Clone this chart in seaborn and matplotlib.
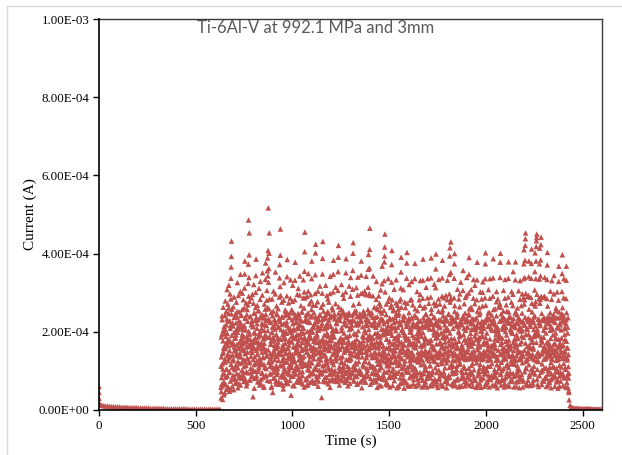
import numpy as np
import pandas as pd
import matplotlib
matplotlib.use("Agg")
import matplotlib.pyplot as plt
from matplotlib.lines import Line2D
from matplotlib.ticker import FuncFormatter
import seaborn as sns

# ---------------- data (current in units of 1e-4 A) ----------------
TITLE = "Ti-6Al-V at 992.1 MPa and 3mm"
X_LABEL = "Time (s)"
Y_LABEL = "Current (A)"
X_TICKS = [0, 500, 1000, 1500, 2000, 2500]
Y_TICKS = [0.0, 2e-4, 4e-4, 6e-4, 8e-4, 1e-3]

# start-up spike
start_t = [0, 0, 0, 0, 2]
start_v = [0.6, 0.45, 0.3, 0.2, 0.15]

# idle baseline, sampled every 10 s from 5 s
BASE_START, BASE_STEP = 5, 10
base_v = [0.13, 0.12, 0.11, 0.10, 0.10, 0.09, 0.09, 0.09, 0.08, 0.08,
          0.08, 0.07, 0.07, 0.07, 0.07, 0.06, 0.06, 0.06, 0.06, 0.06,
          0.05, 0.05, 0.05, 0.05, 0.05, 0.05, 0.04, 0.04, 0.04, 0.04,
          0.04, 0.04, 0.04, 0.04, 0.03, 0.03, 0.03, 0.03, 0.03, 0.03,
          0.03, 0.03, 0.03, 0.03, 0.03, 0.03, 0.02, 0.02, 0.02, 0.02,
          0.02, 0.02, 0.02, 0.02, 0.02, 0.02, 0.02, 0.02, 0.02, 0.02,
          0.02, 0.02, 0.02]

# loaded phase, sampled every 1 s from 630 s (one row = 20 s)
ACTIVE_START, ACTIVE_STEP = 630, 1
active_v = [
    0.58, 0.31, 0.47, 1.36, 0.83, 1.94, 2.41, 1.18, 0.62, 0.27, 1.05, 1.77, 2.63, 1.49, 0.71, 0.39, 1.22, 2.14, 1.63, 0.92,
    0.44, 1.31, 2.06, 2.79, 1.57, 0.66, 1.88, 2.52, 1.04, 0.53, 1.69, 2.33, 3.08, 1.96, 0.87, 1.43, 2.71, 1.26, 0.59, 1.81,
    2.47, 3.19, 1.74, 0.96, 0.48, 1.52, 2.28, 2.97, 1.38, 0.74, 2.16, 2.84, 3.37, 3.66, 3.93, 4.32, 2.58, 1.67, 1.09, 0.61,
    1.41, 2.23, 0.88, 1.73, 2.64, 1.29, 0.52, 1.98, 2.89, 1.61, 1.07, 2.37, 1.84, 0.79, 1.55, 2.46, 2.02, 1.14, 0.68, 1.92,
    2.76, 1.47, 0.93, 1.68, 2.38, 3.26, 2.11, 1.24, 0.57, 1.39, 2.07, 2.93, 1.58, 0.84, 1.72, 2.51, 1.19, 0.66, 1.46, 2.19,
    3.03, 3.47, 2.24, 1.36, 0.81, 1.64, 2.42, 1.85, 1.01, 1.78, 2.57, 2.99, 1.69, 0.91, 1.27, 2.13, 2.82, 1.53, 0.73, 1.11,
    1.87, 2.61, 3.12, 3.48, 3.81, 2.36, 1.44, 0.76, 1.23, 2.05, 2.74, 1.61, 0.98, 1.76, 2.44, 1.32, 0.69, 1.48, 2.27, 1.83,
    2.69, 3.24, 3.73, 4.86, 2.91, 3.39, 3.97, 4.53, 2.78, 1.94, 1.21, 0.77, 1.63, 2.39, 1.71, 0.96, 1.37, 2.18, 2.87, 1.52,
    0.86, 1.47, 2.29, 2.96, 1.67, 1.02, 0.34, 1.29, 2.14, 2.73, 3.21, 1.98, 1.16, 0.81, 1.58, 2.47, 1.74, 0.99, 1.85, 2.62,
    3.01, 3.44, 3.86, 2.37, 1.53, 0.88, 1.26, 2.09, 2.68, 1.42, 0.72, 1.59, 2.31, 1.87, 1.05, 1.73, 2.54, 3.11, 1.96, 1.21,
    0.64, 1.33, 2.01, 2.83, 3.29, 1.91, 1.18, 0.79, 1.66, 2.43, 1.72, 0.95, 1.48, 2.22, 2.94, 3.51, 2.18, 1.35, 0.83, 1.57,
    2.36, 1.62, 0.58, 1.17, 2.04, 2.71, 1.84, 1.09, 1.92, 2.58, 3.34, 3.76, 2.45, 1.54, 0.89, 1.38, 2.16, 2.81, 3.06, 2.29,
    3.56, 3.89, 2.62, 3.43, 4.08, 5.17, 3.27, 2.33, 3.62, 4.01, 4.53, 2.84, 1.88, 1.12, 0.74, 1.45, 2.26, 1.69, 0.93, 1.77,
    2.49, 1.36, 0.61, 1.24, 1.99, 2.84, 2.12, 1.43, 0.45, 1.08, 1.86, 2.53, 3.04, 1.79, 0.97, 1.51, 2.32, 1.66, 0.82, 1.29,
    2.07, 2.97, 3.53, 2.21, 1.39, 0.67, 1.14, 1.93, 2.66, 1.57, 0.91, 1.68, 2.44, 1.83, 1.06, 1.74, 2.59, 2.14, 1.27, 0.73,
    1.49, 2.34, 2.89, 3.38, 3.72, 2.27, 3.16, 3.96, 4.63, 2.93, 1.81, 1.13, 0.69, 1.42, 2.19, 2.76, 1.54, 0.86, 1.61, 2.38,
    1.94, 1.17, 0.63, 1.28, 2.02, 2.81, 3.26, 1.89, 1.07, 0.84, 1.56, 2.42, 1.71, 0.98, 1.82, 2.53, 2.01, 1.23, 0.71, 1.44,
    2.26, 2.92, 3.41, 3.85, 2.48, 1.59, 0.94, 0.68, 1.35, 2.11, 2.74, 1.66, 1.03, 1.79, 2.37, 1.48, 0.76, 1.31, 2.08, 2.86,
    3.33, 1.99, 1.12, 0.38, 1.09, 1.88, 2.57, 1.75, 1.26, 2.03, 2.78, 3.19, 2.21, 1.37, 0.87, 1.62, 2.49, 1.84, 1.01, 0.62,
    1.23, 2.05, 2.82, 3.32, 3.78, 2.43, 1.51, 0.92, 1.46, 2.24, 1.91, 1.14, 0.73, 1.58, 2.36, 2.96, 1.72, 1.04, 1.67, 2.47,
    3.11, 2.09, 1.28, 0.84, 0.72, 1.41, 2.17, 2.94, 3.43, 2.31, 1.43, 0.81, 1.19, 1.97, 2.67, 1.86, 1.12, 1.53, 2.28, 2.51,
    1.73, 0.99, 0.67, 1.34, 2.12, 2.87, 3.33, 1.98, 1.19, 1.81, 2.61, 3.02, 3.55, 4.05, 4.55, 2.87, 1.82, 1.18, 0.77, 1.64,
    2.43, 1.58, 0.79, 0.63, 1.48, 2.27, 2.91, 1.79, 1.04, 1.69, 2.48, 3.04, 3.49, 2.25, 1.41, 0.88, 1.26, 2.01, 2.72, 1.93,
    1.13, 0.71, 1.57, 2.38, 2.95, 1.83, 1.21, 2.06, 2.79, 3.36, 3.81, 2.41, 1.52, 0.96, 0.74, 1.39, 2.13, 2.68, 1.61, 0.93,
    1.76, 2.49, 1.84, 1.06, 0.69, 1.44, 2.23, 2.98, 3.46, 4.02, 4.24, 2.68, 1.73, 1.04, 0.78, 1.54, 2.35, 1.89, 1.17, 2.04,
    2.77, 3.04, 2.14, 1.31, 0.86, 0.74, 1.49, 2.31, 1.76, 1.02, 1.63, 2.42, 3.17, 2.44, 1.52, 0.92, 1.37, 2.09, 2.63, 1.78,
    0.97, 0.32, 1.46, 2.21, 2.99, 3.48, 3.88, 4.31, 2.71, 1.69, 1.01, 0.77, 1.55, 2.34, 1.92, 1.15, 1.63, 2.37, 1.42, 0.84,
    1.61, 2.44, 3.19, 2.16, 1.29, 0.72, 1.33, 2.11, 2.93, 1.97, 1.18, 1.71, 2.52, 2.84, 1.89, 1.08, 1.57, 2.29, 2.76, 1.64,
    0.91, 0.76, 1.52, 2.36, 2.98, 3.42, 2.17, 1.33, 0.94, 0.75, 1.61, 2.39, 1.78, 1.04, 1.86, 2.62, 2.03, 1.22, 1.97, 2.56,
    3.02, 3.47, 3.83, 2.42, 1.47, 0.98, 0.77, 1.59, 2.44, 1.69, 1.01, 1.32, 2.04, 2.72, 3.14, 2.07, 1.26, 0.83, 1.46, 2.21,
    1.57, 0.87, 0.73, 1.51, 2.33, 3.06, 3.54, 3.91, 4.21, 2.64, 1.61, 0.99, 0.79, 1.56, 2.38, 1.81, 1.09, 1.73, 2.41, 1.34,
    1.04, 1.82, 2.58, 3.21, 2.03, 1.24, 0.91, 0.75, 1.62, 2.47, 2.96, 1.81, 1.11, 1.77, 2.46, 2.86, 1.73, 1.02, 1.48, 2.27,
    1.52, 0.94, 0.78, 1.58, 2.42, 3.02, 3.51, 3.87, 2.44, 1.53, 0.97, 0.76, 1.63, 2.44, 1.88, 1.12, 0.84, 1.54, 2.31, 1.74,
    1.01, 1.67, 2.49, 3.17, 2.06, 1.27, 0.89, 0.68, 1.46, 2.26, 2.91, 3.39, 2.13, 1.31, 0.93, 1.42, 2.18, 1.61, 0.97, 1.72,
    2.43, 3.09, 3.57, 4.01, 4.28, 2.69, 1.67, 1.03, 0.74, 1.51, 2.28, 1.76, 1.08, 1.69, 2.48, 1.93, 1.21, 0.86, 1.61, 2.54,
    3.13, 1.94, 1.18, 0.86, 0.66, 1.43, 2.24, 2.94, 3.40, 2.18, 1.36, 0.94, 1.47, 2.21, 2.73, 1.68, 1.03, 1.64, 2.39, 1.56,
    0.98, 0.72, 1.49, 2.31, 2.98, 3.45, 3.81, 2.39, 1.48, 0.91, 0.76, 1.58, 2.41, 2.99, 1.91, 1.16, 1.77, 2.53, 1.86, 1.11,
    0.85, 1.62, 2.47, 3.04, 2.04, 1.24, 0.86, 0.71, 1.49, 2.31, 2.95, 3.42, 2.16, 1.34, 0.95, 1.41, 2.19, 1.67, 1.02, 1.86,
    2.57, 3.14, 3.60, 3.98, 2.48, 1.54, 2.27, 2.98, 3.63, 4.11, 4.65, 2.93, 1.84, 1.13, 0.81, 1.59, 2.43, 1.83, 1.10, 1.74,
    2.49, 1.87, 1.11, 0.71, 1.38, 2.16, 2.92, 3.43, 2.19, 1.37, 0.94, 1.46, 2.25, 2.63, 1.69, 1.06, 1.61, 2.37, 1.48, 0.92,
    0.77, 1.36, 2.12, 2.83, 3.29, 2.61, 1.74, 0.93, 0.58, 1.27, 1.98, 2.57, 1.31, 0.84, 1.66, 2.18, 2.92, 1.47, 1.03, 1.91,
    2.73, 1.64, 0.81, 1.19, 1.87, 2.66, 3.07, 2.34, 1.28, 0.62, 1.09, 1.72, 2.48, 3.23, 3.68, 2.29, 1.37, 0.79, 1.52, 2.06,
    1.42, 0.88, 1.93, 2.55, 3.31, 3.79, 3.94, 4.17, 4.50, 3.02, 1.96, 1.23, 0.67, 1.34, 2.09, 2.71, 1.58, 0.97, 1.81, 2.27,
    1.17, 0.64, 1.26, 2.04, 2.78, 3.36, 1.98, 1.44, 0.83, 1.62, 2.31, 2.87, 1.76, 1.13, 0.59, 1.21, 1.97, 2.63, 2.01, 1.34,
    2.16, 2.69, 3.27, 3.72, 4.08, 2.82, 1.69, 0.99, 0.63, 1.38, 2.11, 2.54, 1.46, 0.91, 1.57, 2.24, 3.09, 1.83, 1.22, 1.71,
    2.37, 1.51, 0.86, 1.29, 2.03, 2.74, 3.33, 2.47, 1.61, 0.94, 0.57, 1.14, 1.89, 2.68, 2.12, 1.39, 1.83, 2.58, 1.67, 0.98,
    0.61, 1.24, 1.92, 2.79, 2.27, 1.36, 0.82, 1.53, 2.22, 2.84, 3.12, 3.53, 3.91, 2.63, 1.73, 1.07, 0.69, 1.31, 2.07, 1.58,
    0.92, 1.67, 2.33, 3.08, 2.41, 1.49, 0.78, 0.56, 1.18, 1.94, 2.76, 1.92, 1.26, 1.87, 2.62, 1.79, 1.02, 0.71, 1.46, 2.23,
    3.37, 3.76, 4.03, 2.73, 1.81, 1.09, 0.66, 1.42, 2.18, 1.67, 0.97, 1.53, 2.35, 3.21, 2.28, 1.39, 0.83, 1.26, 1.99, 2.81,
    2.02, 1.18, 0.62, 1.33, 2.07, 2.83, 3.29, 2.36, 1.48, 0.89, 1.36, 2.14, 2.69, 1.72, 1.11, 0.67, 1.39, 2.21, 1.63, 0.94,
    1.71, 2.42, 3.36, 3.75, 2.59, 1.63, 0.87, 0.61, 1.27, 2.13, 1.68, 0.99, 1.82, 2.37, 3.03, 2.19, 1.34, 0.79, 1.47, 2.26,
    1.88, 1.23, 0.64, 1.32, 2.09, 2.82, 2.06, 1.29, 1.97, 2.68, 2.96, 3.31, 2.27, 1.44, 0.84, 1.33, 2.11, 1.52, 0.92, 1.64,
    0.59, 1.28, 2.16, 2.86, 3.32, 3.86, 2.61, 1.66, 0.94, 0.63, 1.41, 2.28, 1.74, 1.03, 1.86, 2.64, 1.83, 1.12, 0.72, 1.49,
    2.46, 3.14, 2.22, 1.41, 0.81, 0.59, 1.31, 2.17, 2.87, 3.36, 2.34, 1.47, 0.87, 1.37, 2.12, 2.73, 1.77, 0.96, 1.51, 2.31,
    1.72, 1.14, 0.63, 1.37, 2.28, 2.89, 3.38, 3.89, 2.58, 1.62, 0.91, 0.62, 1.33, 2.19, 1.64, 0.98, 0.74, 1.56, 2.36, 2.07,
    1.27, 1.98, 2.74, 3.22, 2.18, 1.39, 0.79, 1.24, 1.96, 2.67, 3.13, 3.61, 3.99, 2.71, 1.69, 0.96, 0.64, 1.38, 2.21, 1.86,
    1.96, 1.17, 0.58, 1.34, 2.16, 2.84, 3.34, 2.31, 1.49, 0.83, 1.37, 2.11, 2.71, 1.74, 0.93, 0.67, 1.42, 2.29, 1.97, 1.24,
    0.93, 1.69, 2.51, 2.91, 3.38, 3.83, 2.56, 1.61, 0.89, 0.61, 1.43, 2.27, 2.87, 2.02, 1.28, 1.91, 2.66, 1.84, 1.08, 0.73,
    0.74, 1.48, 2.36, 2.93, 2.09, 1.31, 0.77, 0.57, 1.29, 2.09, 2.82, 3.32, 2.28, 1.46, 0.82, 1.28, 2.04, 1.53, 0.89, 1.66,
    2.44, 2.97, 3.47, 3.94, 4.15, 2.76, 2.21, 2.83, 3.52, 4.30, 2.87, 1.83, 1.17, 0.66, 1.44, 2.31, 1.72, 1.01, 1.62, 2.36,
    1.63, 1.12, 0.62, 1.39, 2.26, 2.87, 3.37, 3.74, 4.00, 2.67, 1.71, 0.94, 0.64, 1.43, 2.27, 1.71, 0.97, 0.77, 1.57, 2.38,
    1.13, 1.63, 2.47, 3.09, 2.16, 1.38, 0.78, 0.59, 1.32, 2.13, 2.84, 1.98, 1.27, 1.88, 2.64, 2.97, 1.91, 1.19, 1.49, 2.22,
    3.27, 2.28, 1.44, 0.81, 0.61, 1.35, 2.18, 1.63, 0.96, 1.58, 2.37, 3.06, 3.57, 2.41, 1.53, 0.84, 1.32, 2.09, 2.72, 1.79,
    1.07, 0.62, 1.41, 2.26, 2.88, 2.04, 1.31, 0.74, 1.49, 2.33, 2.93, 3.39, 2.33, 1.49, 0.84, 1.31, 2.12, 1.56, 0.91, 1.68,
    2.46, 2.99, 3.47, 3.90, 2.59, 1.66, 0.91, 0.63, 1.41, 2.27, 1.73, 0.99, 1.84, 2.63, 3.08, 2.06, 1.31, 0.71, 1.48, 2.33,
    1.74, 1.19, 0.61, 1.36, 2.21, 2.86, 3.34, 2.33, 1.51, 0.84, 1.34, 2.13, 2.72, 3.19, 2.11, 1.34, 0.76, 1.29, 2.06, 1.81,
    0.58, 1.32, 2.14, 2.82, 3.33, 3.78, 2.52, 1.61, 0.88, 0.62, 1.39, 2.24, 1.71, 0.99, 1.86, 2.62, 1.83, 1.07, 0.69, 1.47,
    2.49, 3.02, 2.14, 1.37, 0.77, 0.58, 1.33, 2.14, 2.84, 2.02, 1.29, 1.91, 2.66, 3.01, 3.28, 2.26, 1.46, 0.82, 1.32, 2.09,
    1.51, 1.04, 0.61, 1.38, 2.24, 2.87, 3.36, 3.74, 4.02, 2.68, 1.71, 0.93, 0.65, 1.44, 2.31, 1.74, 1.01, 0.73, 1.54, 2.37,
    1.12, 1.66, 2.49, 3.08, 2.17, 1.39, 0.79, 0.59, 1.33, 2.14, 2.86, 3.36, 2.32, 1.49, 0.83, 1.29, 2.08, 1.52, 0.88, 1.64,
    2.43, 2.21, 1.41, 0.64, 1.41, 2.29, 2.91, 3.38, 3.87, 2.57, 1.66, 0.89, 0.62, 1.39, 2.23, 1.67, 0.97, 1.82, 2.59, 2.06,
    1.57, 0.86, 1.27, 2.02, 2.77, 3.03, 2.14, 1.37, 0.77, 0.57, 1.29, 2.11, 2.84, 2.01, 1.28, 1.89, 2.64, 1.84, 1.07, 0.72,
    1.13, 1.91, 2.72, 3.39, 3.78, 4.01, 2.63, 1.68, 0.92, 0.64, 1.42, 2.29, 1.73, 1.01, 0.76, 1.57, 2.38, 2.07, 1.29, 2.07,
    2.53, 3.06, 2.17, 1.41, 0.78, 0.59, 1.35, 2.17, 2.86, 3.34, 2.31, 1.49, 0.83, 1.31, 2.11, 2.69, 1.76, 0.93, 1.51, 2.28,
    1.68, 1.18, 0.63, 1.42, 2.29, 2.89, 3.37, 3.79, 2.51, 1.62, 0.89, 0.61, 1.38, 2.22, 1.66, 0.97, 0.74, 1.56, 2.37, 2.06,
    1.26, 2.01, 2.76, 3.03, 2.16, 1.38, 0.77, 1.19, 1.96, 2.67, 2.96, 3.54, 2.34, 1.52, 0.86, 0.59, 1.33, 2.14, 1.82, 1.17,
    1.69, 2.48, 3.33, 3.79, 2.51, 1.61, 0.88, 0.61, 1.39, 2.24, 1.68, 0.98, 1.83, 2.61, 1.84, 1.07, 0.73, 1.50, 2.36, 3.05,
    2.07, 1.29, 0.79, 0.57, 1.31, 2.12, 2.83, 3.31, 2.29, 1.47, 0.82, 1.31, 2.09, 2.67, 1.75, 0.91, 1.48, 2.26, 2.97, 2.03,
    0.74, 0.59, 1.38, 2.25, 2.87, 3.36, 3.74, 4.10, 2.71, 2.19, 2.82, 3.39, 3.83, 4.21, 4.38, 4.53, 2.98, 1.93, 1.24, 0.68,
    1.06, 0.66, 1.45, 2.32, 2.90, 2.06, 1.31, 0.76, 1.50, 2.35, 2.93, 3.41, 3.81, 2.58, 1.66, 0.91, 0.63, 1.37, 2.19, 1.86,
    0.63, 1.40, 2.27, 2.88, 3.37, 3.75, 4.12, 2.73, 1.74, 0.95, 0.64, 1.43, 2.31, 1.74, 1.01, 0.77, 1.56, 2.38, 2.06, 1.29,
    1.93, 2.71, 3.07, 3.54, 4.02, 2.66, 2.15, 2.77, 3.36, 3.81, 4.18, 4.33, 4.41, 4.50, 2.96, 1.91, 1.04, 0.66, 1.46, 2.32,
    1.97, 1.25, 0.60, 1.38, 2.24, 2.86, 3.35, 3.74, 4.14, 2.73, 2.21, 2.83, 3.43, 3.84, 4.23, 4.42, 2.91, 1.86, 1.01, 0.65,
    1.44, 2.31, 1.74, 1.01, 0.75, 1.49, 2.34, 2.88, 2.04, 1.30, 0.74, 1.50, 2.35, 2.91, 3.39, 2.33, 1.50, 0.84, 1.33, 2.12,
    1.56, 1.08, 0.60, 1.39, 2.25, 2.85, 3.34, 3.71, 4.03, 2.66, 1.70, 0.92, 0.64, 1.43, 2.29, 1.72, 1.00, 0.75, 1.55, 2.37,
    1.10, 1.65, 2.49, 3.04, 2.14, 1.38, 0.78, 0.57, 1.32, 2.13, 2.83, 3.31, 2.29, 1.47, 0.82, 1.29, 2.06, 1.51, 0.87, 1.67,
    2.44, 2.97, 3.44, 2.37, 1.53, 0.85, 0.61, 1.39, 2.24, 1.69, 0.98, 1.84, 2.61, 1.83, 1.07, 0.72, 1.49, 2.36, 3.02, 2.12,
    1.35, 0.77, 0.56, 1.29, 2.10, 2.81, 3.29, 3.68, 2.51, 1.62, 0.87, 0.61, 1.38, 2.23, 1.67, 0.97, 0.74, 1.54, 2.37, 2.05,
    1.10, 1.63, 2.47, 3.03, 3.49, 3.97, 2.62, 1.68, 0.91, 0.63, 1.41, 2.27, 2.87, 3.36, 2.32, 1.50, 0.84, 1.32, 2.11, 1.80,
    1.08, 0.59, 1.37, 2.22, 2.85, 3.32, 3.68, 2.49, 1.59, 0.85, 0.58, 1.33, 2.12, 1.59, 0.93, 0.57, 1.11, 0.82, 0.49, 0.45,
]

# interleaved half-second readings of the loaded phase (every 2 s from 630.5 s)
ACTIVE2_START, ACTIVE2_STEP = 630.5, 2
active2_v = [
    1.12, 1.87, 0.66, 2.31, 1.45, 0.93, 2.04, 1.58, 0.71, 1.96, 2.42, 1.23, 0.84, 1.71, 2.18, 1.05, 0.57, 1.39, 2.27, 1.64,
    2.61, 1.33, 0.98, 1.78, 2.09, 0.52, 1.17, 2.46, 1.91, 0.79, 1.26, 2.15, 1.69, 0.88, 2.37, 1.52, 1.03, 0.69, 1.84, 2.23,
    1.41, 0.73, 2.52, 1.99, 1.08, 1.62, 2.28, 0.91, 1.37, 2.11, 0.64, 1.76, 2.44, 1.21, 0.86, 1.94, 1.56, 2.06, 0.97, 1.29,
    2.17, 1.73, 0.81, 1.48, 2.34, 1.14, 0.62, 1.89, 2.57, 1.32, 0.95, 1.66, 2.01, 1.24, 0.77, 2.39, 1.81, 1.07, 1.53, 2.26,
    0.89, 1.61, 2.13, 1.02, 1.79, 2.48, 0.56, 1.36, 1.97, 2.29, 1.19, 0.83, 1.74, 2.21, 1.43, 0.99, 2.54, 1.67, 1.11, 0.72,
    1.93, 2.36, 1.28, 0.68, 1.57, 2.08, 1.16, 0.94, 2.43, 1.82, 1.34, 0.61, 1.71, 2.19, 0.87, 1.49, 2.32, 1.06, 1.88, 1.39,
    0.76, 2.03, 1.54, 1.22, 2.59, 1.86, 0.92, 1.31, 2.24, 1.68, 0.58, 1.13, 1.98, 2.41, 1.46, 0.81, 1.77, 2.14, 1.04, 1.59,
    2.28, 1.09, 0.74, 1.92, 2.47, 1.37, 0.97, 1.63, 2.12, 0.66, 1.44, 2.33, 1.81, 1.15, 0.85, 2.06, 1.52, 2.38, 1.27, 0.93,
    1.67, 0.54, 1.35, 2.22, 1.84, 1.01, 2.56, 1.47, 0.79, 1.96, 2.17, 1.23, 0.68, 1.58, 2.44, 1.11, 1.76, 0.91, 2.02, 1.38,
    2.49, 1.18, 0.86, 1.74, 2.31, 1.42, 0.63, 1.89, 2.07, 1.29, 0.98, 2.36, 1.61, 1.05, 1.83, 2.26, 0.72, 1.51, 2.13, 1.93,
    1.06, 1.79, 2.42, 0.95, 1.33, 2.18, 1.64, 0.71, 1.97, 2.51, 1.26, 0.88, 1.55, 2.09, 1.38, 0.59, 1.86, 2.29, 1.14, 1.72,
    2.34, 0.82, 1.49, 2.01, 1.17, 0.65, 2.46, 1.71, 1.02, 1.88, 2.24, 1.36, 0.93, 1.62, 2.57, 1.21, 0.76, 1.99, 1.43, 2.11,
    1.31, 2.19, 0.69, 1.57, 2.38, 1.84, 1.08, 0.87, 1.94, 2.27, 1.46, 0.61, 1.73, 2.04, 1.19, 2.43, 1.66, 0.97, 1.28, 2.16,
    0.94, 1.48, 2.32, 1.13, 1.81, 2.53, 0.73, 1.39, 2.08, 1.59, 1.01, 2.36, 1.76, 0.84, 1.24, 2.21, 1.92, 0.67, 1.53, 2.47,
    1.78, 1.04, 0.58, 2.14, 1.67, 1.27, 2.41, 1.93, 0.81, 1.42, 2.06, 1.16, 0.92, 1.87, 2.33, 1.51, 0.74, 1.69, 2.23, 1.33,
    2.02, 1.41, 0.91, 1.74, 2.48, 1.09, 0.64, 1.56, 2.29, 1.84, 1.22, 0.79, 2.11, 1.63, 1.37, 2.54, 1.01, 0.86, 1.97, 2.19,
    1.18, 0.71, 1.86, 2.37, 1.29, 0.97, 2.16, 1.53, 0.62, 1.77, 2.44, 1.32, 1.06, 1.91, 2.26, 0.83, 1.47, 2.09, 1.61, 0.95,
    2.31, 1.66, 1.12, 0.76, 1.96, 2.52, 1.39, 0.88, 1.58, 2.18, 1.03, 1.81, 2.39, 0.69, 1.44, 2.03, 1.24, 0.96, 1.73, 2.46,
    1.52, 0.99, 2.27, 1.71, 0.57, 1.36, 2.13, 1.89, 1.14, 0.82, 1.64, 2.42, 1.26, 0.73, 1.98, 2.21, 1.49, 1.07, 2.34, 1.79,
    0.87, 1.57, 2.06, 1.21, 1.92, 2.49, 0.66, 1.43, 2.19, 1.68, 0.94, 1.34, 2.37, 1.83, 1.11, 0.78, 1.62, 2.28, 1.96, 1.05,
    2.12, 1.35, 0.72, 1.87, 2.39, 1.17, 0.91, 1.59, 2.24, 1.44, 0.63, 1.76, 2.53, 1.09, 1.41, 2.07, 0.85, 1.93, 2.32, 1.26,
    1.63, 2.21, 0.98, 1.48, 2.01, 0.77, 1.37, 2.44, 1.82, 1.13, 0.69, 1.97, 2.16, 1.31, 1.02, 1.74, 2.36, 0.89, 1.56, 2.08,
    1.23, 0.84, 1.91, 2.33, 1.52, 1.06, 2.58, 1.69, 0.75, 1.38, 2.11, 1.84, 0.96, 1.27, 2.27, 1.61, 0.59, 1.78, 2.42, 1.15,
    2.47, 1.72, 1.19, 0.68, 1.47, 2.18, 1.33, 0.93, 2.04, 1.58, 0.81, 1.99, 2.29, 1.09, 1.66, 2.38, 0.74, 1.42, 1.88, 2.14,
    0.97, 1.54, 2.26, 1.36, 0.61, 1.83, 2.49, 1.12, 1.74, 2.09, 0.87, 1.46, 2.34, 1.68, 1.03, 1.91, 2.21, 1.29, 0.78, 1.62,
    1.86, 2.41, 1.07, 1.59, 2.17, 0.92, 1.31, 1.96, 2.54, 1.24, 0.71, 1.77, 2.03, 1.43, 0.96, 2.28, 1.64, 1.16, 1.89, 0.83,
    1.44, 0.76, 1.98, 2.36, 1.18, 1.67, 2.12, 0.64, 1.53, 2.44, 1.81, 1.01, 1.37, 2.19, 0.89, 1.72, 2.31, 1.26, 0.94, 2.07,
    2.22, 1.13, 0.82, 1.79, 2.47, 1.41, 0.99, 1.63, 2.08, 1.27, 0.67, 1.92, 2.37, 1.54, 1.08, 1.84, 2.26, 0.73, 1.46, 1.99,
    1.36, 1.94, 2.53, 1.02, 0.79, 1.71, 2.14, 1.48, 0.91, 2.29, 1.61, 1.19, 0.63, 1.86, 2.41, 1.33, 0.97, 1.57, 2.18, 1.74,
    0.86, 1.62, 2.32, 1.21, 1.88, 2.06, 0.69, 1.39, 2.46, 1.77, 1.09, 0.84, 1.97, 2.23, 1.52, 1.14, 2.37, 1.66, 0.93, 1.28,
    2.09, 1.47, 0.74, 1.83, 2.52, 1.26, 0.98, 1.69, 2.16, 1.04, 1.59, 2.39, 0.81, 1.35, 2.02, 1.76, 1.17, 0.62, 1.91, 2.28,
    1.58, 1.01, 2.19, 1.67, 0.88, 1.42, 2.34, 1.93, 1.12, 0.72, 1.81, 2.48, 1.29, 0.96, 1.73, 2.11, 1.49, 0.67, 2.26, 1.84,
    1.07, 1.76, 2.43, 1.34, 0.79, 1.96, 2.21, 1.14, 1.63, 2.57, 0.92, 1.46, 2.07, 1.71, 1.03, 0.76, 1.89, 2.31, 1.38, 1.97,
    2.36, 1.21, 0.65, 1.54, 2.12, 1.79, 0.94, 1.31, 2.44, 1.62, 1.17, 2.02, 0.83, 1.88, 2.27, 1.43, 0.99, 1.68, 2.16, 1.11,
    1.74, 0.93, 1.41, 2.29, 1.86, 1.06, 0.71, 1.97, 2.38, 1.27, 1.57, 2.14, 0.88, 1.36, 2.49, 1.82, 1.12, 0.78, 1.64, 2.22,
    1.19, 2.04, 1.61, 0.84, 1.47, 2.31, 1.72, 1.03, 2.18, 0.66, 1.39, 1.94, 2.41, 1.16, 0.97, 1.78, 2.07, 1.53, 0.74, 1.87,
    2.27, 1.43, 0.91, 1.68, 2.46, 1.22, 0.79, 1.84, 2.13, 1.49, 1.06, 2.36, 1.59, 0.68, 1.33, 2.01, 1.76, 1.13, 1.92, 2.53,
    0.96, 1.52, 2.24, 1.09, 1.79, 2.39, 0.87, 1.37, 2.06, 1.64, 1.18, 0.73, 1.99, 2.28, 1.41, 0.94, 1.73, 2.17, 1.27, 1.81,
    1.66, 2.11, 1.28, 0.72, 1.93, 2.44, 1.14, 1.56, 2.21, 0.89, 1.47, 2.33, 1.01, 1.69, 2.02, 1.36, 0.81, 1.89, 2.48, 1.21,
    1.39, 0.77, 1.86, 2.17, 1.53, 0.98, 2.37, 1.71, 1.08, 1.29, 2.09, 1.62, 0.63, 1.44, 2.26, 1.94, 1.16, 0.86, 1.58, 2.31,
    2.14, 1.57, 1.04, 1.82, 2.51, 1.33, 0.69, 1.61, 2.24, 1.12, 1.88, 2.41, 0.92, 1.37, 1.98, 1.73, 1.26, 0.79, 2.06, 1.48,
    1.24, 1.91, 2.32, 0.88, 1.42, 2.16, 1.67, 0.97, 1.79, 2.47, 1.18, 0.74, 1.54, 2.29, 1.86, 1.07, 1.63, 2.12, 1.31, 0.84,
    1.97, 1.36, 0.81, 1.74, 2.38, 1.51, 1.02, 2.21, 1.64, 0.71, 1.43, 2.04, 1.83, 1.22, 0.93, 2.33, 1.58, 1.09, 1.92, 2.43,
    1.11, 1.69, 2.27, 1.44, 0.86, 1.97, 2.54, 1.27, 0.76, 1.59, 2.11, 1.38, 0.98, 1.81, 2.36, 1.14, 1.71, 2.18, 0.89, 1.47,
    1.84, 2.26, 1.32, 0.93, 1.66, 2.42, 1.19, 0.82, 1.93, 2.08, 1.49, 1.04, 2.31, 1.76, 0.71, 1.28, 1.97, 2.36, 1.42, 0.95,
]

# unloading tail, sampled every 5 s from 2430 s
TAIL_START, TAIL_STEP = 2430, 5
tail_v = [0.26, 0.12, 0.07, 0.06, 0.05, 0.05, 0.04, 0.04, 0.04, 0.04,
          0.04, 0.03, 0.03, 0.03, 0.03, 0.03, 0.03, 0.03, 0.03, 0.03,
          0.03, 0.03, 0.03, 0.02, 0.02, 0.02, 0.02, 0.02, 0.02, 0.02,
          0.02, 0.02, 0.02, 0.02, 0.02]

# ---------------- assemble ----------------
times = (list(start_t)
         + [BASE_START + BASE_STEP * i for i in range(len(base_v))]
         + [ACTIVE_START + ACTIVE_STEP * i for i in range(len(active_v))]
         + [ACTIVE2_START + ACTIVE2_STEP * i for i in range(len(active2_v))]
         + [TAIL_START + TAIL_STEP * i for i in range(len(tail_v))])
vals = list(start_v) + base_v + active_v + active2_v + tail_v
df = pd.DataFrame({"time": times, "current": np.array(vals) * 1e-4})

# ---------------- plot ----------------
sns.set_theme(style="white")
plt.rcParams["font.family"] = ["Liberation Serif", "DejaVu Serif"]

fig = plt.figure(figsize=(6.22, 4.55), dpi=100)
ax = fig.add_axes([99 / 622, 45 / 455, 503 / 622, 391 / 455])

sns.scatterplot(data=df, x="time", y="current", ax=ax, marker="^",
                color="#C0504D", s=16, linewidth=0, edgecolor="none",
                legend=False, zorder=3)

ax.set_xlim(0, 2600)
ax.set_ylim(0, 1e-3)
ax.set_xticks(X_TICKS)
ax.set_yticks(Y_TICKS)
ax.yaxis.set_major_formatter(FuncFormatter(lambda v, p: f"{v:.2E}"))
ax.tick_params(axis="both", direction="out", length=4, width=1,
               colors="black", labelsize=9.3, pad=3, left=True, bottom=True)

for side in ["left", "bottom"]:
    ax.spines[side].set_color("black")
    ax.spines[side].set_linewidth(1.2)
for side in ["top", "right"]:
    ax.spines[side].set_color("#3a3a3a")
    ax.spines[side].set_linewidth(1.0)
ax.spines["left"].set_zorder(4)
ax.spines["bottom"].set_zorder(4)

ax.set_xlabel(X_LABEL, fontsize=11, color="black", labelpad=2)
ax.set_ylabel(Y_LABEL, fontsize=11, color="black", labelpad=1)
ax.grid(False)

ax.text(0.431, 0.978, TITLE, transform=ax.transAxes, ha="center", va="center",
        fontsize=12, color="#595959", family=["Lato", "DejaVu Sans"])

# outer chart-area border (light gray, top and left edges visible)
fig.add_artist(Line2D([7 / 622, 1.0], [1 - 6 / 455, 1 - 6 / 455],
                      transform=fig.transFigure, color="#d9d9d9", lw=1))
fig.add_artist(Line2D([7 / 622, 7 / 622], [0, 1 - 6 / 455],
                      transform=fig.transFigure, color="#d9d9d9", lw=1))

fig.savefig("out.png", dpi=100, facecolor="white")
